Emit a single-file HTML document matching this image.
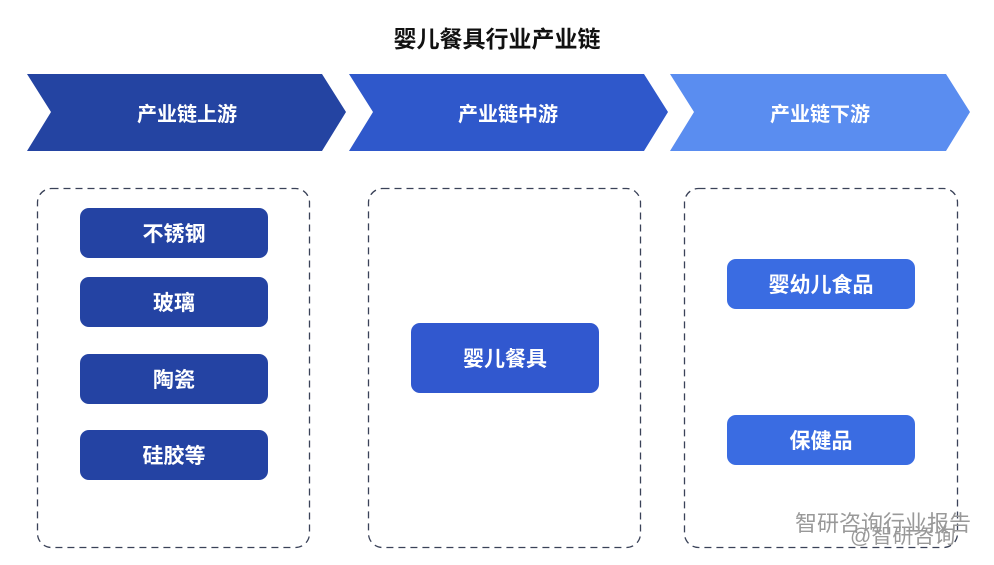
<!DOCTYPE html>
<html><head><meta charset="utf-8"><style>
body{margin:0;width:994px;height:565px;background:#fff;position:relative;overflow:hidden;font-family:"Liberation Sans","Noto Sans CJK SC",sans-serif}
.t{position:absolute;left:0;width:994px;top:20px;text-align:center;font-size:23px;font-weight:bold;color:#111}
.b{position:absolute;color:#fff;font-weight:bold;font-size:21px;border-radius:9px;display:flex;align-items:center;justify-content:center}
.l{background:#2443a3;left:80px;width:188px;height:50px}
.wm{position:absolute;font-size:22px;color:#999}
</style></head><body>
<div class="t">婴儿餐具行业产业链</div>
<svg width="994" height="565" style="position:absolute;left:0;top:0">
<polygon points="27,74 322,74 346,112 322,151 27,151 51,112" fill="#2444a2"/>
<polygon points="349,74 644,74 668,112 644,151 349,151 373,112" fill="#2f58cb"/>
<polygon points="670,74 946,74 970,112 946,151 670,151 694,112" fill="#5a8df0"/>
<g fill="#fff" font-size="20" font-weight="bold" text-anchor="middle" font-family="Liberation Sans,Noto Sans CJK SC,sans-serif">
<text x="187" y="121">产业链上游</text><text x="508" y="121">产业链中游</text><text x="820" y="121">产业链下游</text></g>
<g fill="none" stroke="#3a4258" stroke-width="1.3" stroke-dasharray="7 5">
<rect x="37.5" y="188.5" width="272" height="359" rx="14"/>
<rect x="368.5" y="188.5" width="272" height="359" rx="14"/>
<rect x="684.5" y="188.5" width="273" height="359" rx="14"/>
</g>
</svg>
<div class="b l" style="top:208px">不锈钢</div>
<div class="b l" style="top:277px">玻璃</div>
<div class="b l" style="top:354px">陶瓷</div>
<div class="b l" style="top:430px">硅胶等</div>
<div class="b" style="background:#3158cf;left:411px;top:323px;width:188px;height:70px">婴儿餐具</div>
<div class="b" style="background:#3a6ce2;left:727px;top:259px;width:188px;height:50px">婴幼儿食品</div>
<div class="b" style="background:#3a6ce2;left:727px;top:415px;width:188px;height:50px">保健品</div>
<div class="wm" style="left:795px;top:506px">智研咨询行业报告</div>
<div class="wm" style="left:850px;top:520px;font-size:21px">@智研咨询</div>
</body></html>
